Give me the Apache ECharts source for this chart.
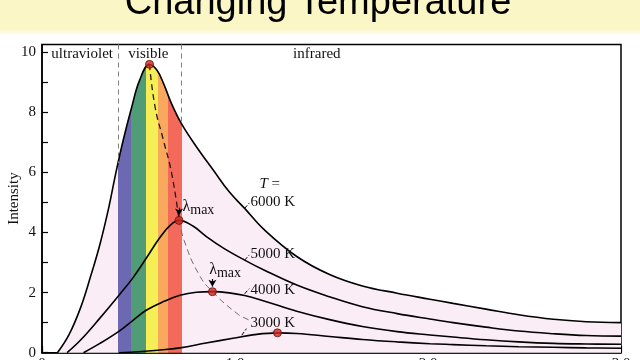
<!DOCTYPE html>
<html>
<head>
<meta charset="utf-8">
<title>Changing Temperature</title>
<script src="https://cdn.jsdelivr.net/npm/echarts@6/dist/echarts.min.js"></script>
<style>
    html, body { margin: 0; padding: 0; background: #fff; }
    #chart { width: 640px; height: 360px; }
</style>
</head>
<body>
<div id="chart"></div>
<script>
// wavelength / intensity
var lam6000 = [0.08, 0.14, 0.20, 0.25, 0.30, 0.345, 0.38, 0.42, 0.465, 0.505, 0.557, 0.595, 0.63, 0.67, 0.724, 0.80, 0.89, 0.97, 1.05, 1.15, 1.32, 1.49, 1.66, 1.84, 2.01, 2.13, 2.30, 2.47, 2.65, 2.82, 3.0];
var int6000 = [0, 0.6, 1.5, 2.5, 3.6, 4.8, 5.9, 7.05, 8.17, 9.05, 9.59, 9.40, 8.95, 8.30, 7.6, 6.85, 6.05, 5.35, 4.80, 4.10, 3.20, 2.60, 2.22, 1.98, 1.78, 1.64, 1.45, 1.26, 1.11, 1.03, 1.0];

var lam5000 = [0.13, 0.20, 0.30, 0.40, 0.47, 0.54, 0.61, 0.665, 0.71, 0.78, 0.85, 0.94, 1.05, 1.15, 1.32, 1.49, 1.66, 1.84, 2.01, 2.13, 2.30, 2.47, 2.65, 2.82, 3.0];
var int5000 = [0, 0.42, 1.15, 1.92, 2.48, 3.14, 3.82, 4.24, 4.40, 4.22, 3.87, 3.48, 3.08, 2.75, 2.25, 1.86, 1.53, 1.30, 1.12, 1.0, 0.85, 0.72, 0.63, 0.57, 0.55];

var lam4000 = [0.215, 0.30, 0.40, 0.47, 0.54, 0.63, 0.715, 0.80, 0.883, 0.97, 1.05, 1.15, 1.32, 1.49, 1.66, 1.84, 2.01, 2.13, 2.30, 2.47, 2.65, 2.82, 3.0];
var int4000 = [0, 0.31, 0.72, 1.07, 1.41, 1.70, 1.91, 2.01, 2.03, 1.99, 1.90, 1.72, 1.38, 1.10, 0.87, 0.70, 0.59, 0.52, 0.43, 0.36, 0.31, 0.29, 0.28];

var lam3000 = [0.40, 0.50, 0.60, 0.715, 0.85, 0.99, 1.10, 1.22, 1.32, 1.49, 1.66, 1.84, 2.01, 2.13, 2.30, 2.47, 2.65, 2.82, 3.0];
var int3000 = [0, 0.03, 0.08, 0.16, 0.32, 0.48, 0.60, 0.66, 0.64, 0.54, 0.44, 0.36, 0.30, 0.27, 0.23, 0.20, 0.18, 0.16, 0.15];

// lambda-max dots and the dashed line through them
var peakLam = [0.557, 0.71, 0.883, 1.22];
var peakInt = [9.59, 4.40, 2.03, 0.66];
var locusHighLam = [0.557, 0.586, 0.629, 0.672, 0.71];
var locusHighInt = [9.59, 8.17, 7.07, 5.96, 4.40];
var locusLowLam = [0.71, 0.736, 0.81, 0.883, 1.009, 1.052, 1.22];
var locusLowInt = [4.40, 3.74, 2.64, 2.03, 1.31, 1.15, 0.66];

// visible band
var bandEdges = [0.394, 0.462, 0.540, 0.602, 0.654, 0.724];
var bandColors = ['#6c68b2', '#4f9c76', '#f6ee55', '#f8a95e', '#f46a5a'];
var pink = '#fbedf6';

var regionNames = ['ultraviolet', 'visible', 'infrared'];
var regionLam = [0.208, 0.551, 1.424];

var curveNames = ['6000 K', '5000 K', '4000 K', '3000 K'];
var curveLabelInt = [5.0, 3.28, 2.08, 0.98];
var leaderFromLam = [1.05, 1.05, 1.05, 1.035];
var leaderFromInt = [4.80, 3.08, 1.96, 0.58];
var leaderToInt = [4.98, 3.25, 2.13, 0.80];

var xLabelValues = [0, 1, 2, 3];
var yLabelValues = [0, 2, 4, 6, 8, 10];

var serif = 'Liberation Serif';

function pairs(xs, ys) {
    return xs.map(function (x, i) { return [x, ys[i]]; });
}

// pieces for colouring the area under the 6000 K curve
var pieces = [{ lt: bandEdges[0], color: pink }];
for (var i = 0; i < bandColors.length; i++) {
    pieces.push({ gte: bandEdges[i], lt: bandEdges[i + 1], color: bandColors[i] });
}
pieces.push({ gte: bandEdges[bandEdges.length - 1], color: pink });

function curve(name, xs, ys, area) {
    var s = {
        name: name,
        type: 'line',
        smooth: 0.4,
        showSymbol: false,
        silent: true,
        data: pairs(xs, ys),
        lineStyle: { color: '#000', width: 1.6 }
    };
    if (area) s.areaStyle = { opacity: 1 };
    return s;
}

// labels: region names, curve names, lambda max
var labelPoints = [];
regionNames.forEach(function (n, i) {
    labelPoints.push({ coord: [regionLam[i], 9.92], value: n, label: { align: 'center' } });
});
curveNames.forEach(function (n, i) {
    labelPoints.push({ coord: [1.08, curveLabelInt[i]], value: n,
        label: { align: 'left', backgroundColor: i === 3 ? pink : 'transparent' } });
});
labelPoints.push({ coord: [1.18, 5.6], value: 'T =', label: { align: 'center', formatter: '{i|T} =' } });
labelPoints.push({ coord: [0.728, 4.86], value: 'lmax', label: { align: 'left', formatter: '{l|λ}{s|max}' } });
labelPoints.push({ coord: [0.866, 2.76], value: 'lmax', label: { align: 'left', formatter: '{l|λ}{s|max}' } });

var segs = [];
// dashed band borders
[[bandEdges[0], 6.3], [bandEdges[5], 7.6]].forEach(function (p) {
    segs.push([{ coord: [p[0], 10.25] }, { coord: [p[0], p[1]],
        lineStyle: { type: [5, 4], color: '#808080', width: 1 } }]);
});
// leaders to curve names
curveNames.forEach(function (n, i) {
    segs.push([{ coord: [leaderFromLam[i], leaderFromInt[i]] },
        { coord: [leaderFromLam[i] + 0.024, leaderToInt[i]], lineStyle: { color: '#000', width: 1 } }]);
});
// arrows to the 5000 K and 4000 K peaks
[1, 2].forEach(function (k) {
    segs.push([{ coord: [peakLam[k], peakInt[k] + 0.42] },
        { coord: [peakLam[k], peakInt[k] + 0.16], symbol: 'arrow', symbolSize: [6, 7],
          lineStyle: { color: '#000', width: 1.2 } }]);
});

var chart = echarts.init(document.getElementById('chart'));

var option = {
    animation: false,
    backgroundColor: '#fff',
    graphic: [{
        type: 'rect',
        shape: { x: 0, y: 0, width: 640, height: 36 },
        style: {
            fill: new echarts.graphic.LinearGradient(0, 0, 0, 1, [
                { offset: 0, color: '#fbf6c6' },
                { offset: 0.8, color: '#fbf6c6' },
                { offset: 1, color: '#ffffff' }
            ])
        },
        silent: true
    }, {
        type: 'text',
        style: {
            x: 318, y: 4,
            text: 'Changing Temperature',
            font: '38px "Liberation Sans"',
            fill: '#000',
            align: 'center',
            verticalAlign: 'middle'
        },
        silent: true
    }],
    grid: {
        left: 42, right: 19, top: 44.5, bottom: 7.3,
        outerBoundsMode: 'none',
        containLabel: false,
        show: true, borderColor: '#000', borderWidth: 1.5,
        backgroundColor: '#fff'
    },
    visualMap: {
        type: 'piecewise',
        show: false,
        dimension: 0,
        seriesIndex: 0,
        pieces: pieces
    },
    xAxis: {
        type: 'value',
        min: 0, max: 3, interval: 0.5,
        axisLine: { lineStyle: { color: '#000', width: 1.5 } },
        axisTick: { inside: true, length: 7, lineStyle: { color: '#000', width: 1.2 } },
        minorTick: { show: true, splitNumber: 5, length: 4, lineStyle: { color: '#000', width: 1.2 } },
        splitLine: { show: false },
        axisLabel: {
            margin: 4,
            fontFamily: serif, fontSize: 15, color: '#111',
            formatter: function (v) {
                if (xLabelValues.indexOf(v) < 0) return '';
                return v === 0 ? '0' : v.toFixed(1);
            }
        }
    },
    yAxis: {
        type: 'value',
        min: 0, max: 10.25, interval: 1,
        name: 'Intensity',
        nameLocation: 'middle',
        nameGap: 20,
        nameMoveOverlap: false,
        nameTextStyle: { fontFamily: serif, fontSize: 15, color: '#111' },
        axisLine: { lineStyle: { color: '#000', width: 1.5 } },
        axisTick: { inside: true, length: 6, lineStyle: { color: '#000', width: 1.2 } },
        splitLine: { show: false },
        axisLabel: {
            margin: 6,
            showMaxLabel: false,
            fontFamily: serif, fontSize: 15, color: '#111',
            formatter: function (v) {
                return yLabelValues.indexOf(v) >= 0 ? String(v) : '';
            }
        }
    },
    series: [
        curve('6000 K', lam6000, int6000, true),
        curve('5000 K', lam5000, int5000),
        curve('4000 K', lam4000, int4000),
        curve('3000 K', lam3000, int3000),
        {
            type: 'line', smooth: true, showSymbol: false, silent: true,
            data: pairs(locusHighLam, locusHighInt),
            lineStyle: { color: '#2a1414', width: 1.3, type: [6, 4] }
        },
        {
            type: 'line', smooth: true, showSymbol: false, silent: true,
            data: pairs(locusLowLam, locusLowInt),
            lineStyle: { color: '#6e6e6e', width: 1, type: [6, 4] }
        },
        {
            type: 'line', data: [], silent: true,
            markLine: {
                silent: true, symbol: ['none', 'none'],
                label: { show: false },
                data: segs
            },
            markPoint: {
                silent: true,
                symbol: 'circle', symbolSize: 1,
                itemStyle: { color: 'rgba(0,0,0,0)' },
                label: {
                    show: true, position: 'inside', verticalAlign: 'middle',
                    fontFamily: serif, fontSize: 15, color: '#111',
                    formatter: '{c}',
                    rich: {
                        i: { fontFamily: serif, fontSize: 15, fontStyle: 'italic', color: '#111' },
                        l: { fontFamily: serif, fontSize: 16, color: '#111' },
                        s: { fontFamily: serif, fontSize: 14, color: '#111', padding: [7, 0, 0, 0] }
                    }
                },
                data: labelPoints
            }
        },
        {
            type: 'scatter', silent: true,
            data: pairs(peakLam, peakInt),
            symbolSize: 8,
            itemStyle: { color: '#c9281f', borderColor: '#6e0e0e', borderWidth: 1 },
            z: 5
        }
    ]
};

chart.setOption(option);
</script>
</body>
</html>
